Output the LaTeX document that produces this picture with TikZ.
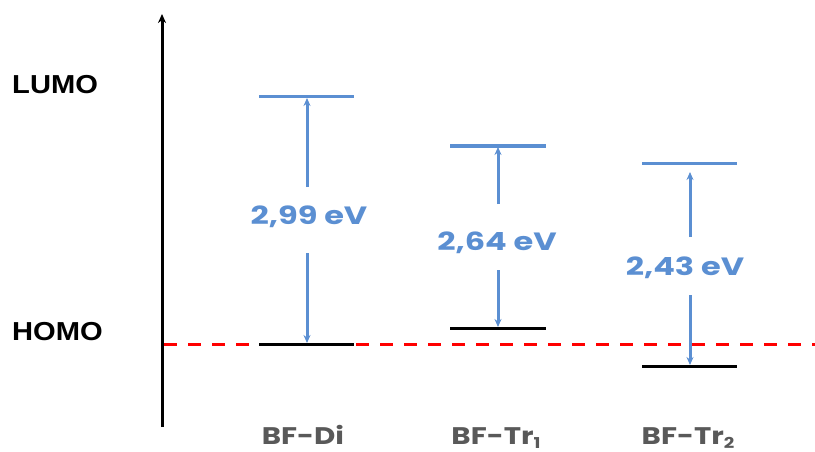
\documentclass[tikz,border=0pt]{standalone}
\usepackage{fontspec}
\setmainfont{Liberation Sans}
\newfontfamily\lblfont{Poppins}
\usetikzlibrary{arrows.meta}
\definecolor{lvlblue}{HTML}{5B8FD2}
\definecolor{lblgray}{HTML}{595959}
\newcommand{\lowsub}[1]{\raisebox{-0.18em}{\fontsize{15}{15}\selectfont #1}}
\tikzset{
  lumo/.style={draw=lvlblue, line width=3pt},
  homo/.style={draw=black, line width=3pt},
  gaparrow/.style={draw=lvlblue, line width=3pt, -{Stealth[length=8pt,width=7pt]}},
  gaplabel/.style={text=lvlblue, font=\lblfont\fontsize{25}{28}\selectfont\bfseries, inner sep=0pt, xscale=1.28},
  mollabel/.style={text=lblgray, font=\lblfont\fontsize{24}{26}\selectfont\bfseries, inner sep=0pt, xscale=1.22, anchor=base},
  sidelabel/.style={font=\fontsize{26}{28}\selectfont\bfseries, inner sep=0pt, anchor=west, xscale=1.12},
}
\begin{document}
\begin{tikzpicture}[x=1pt,y=-1pt]
\useasboundingbox (0,0) rectangle (815,452);
% axis
\coordinate (ax0) at (162,427);
\coordinate (ax1) at (162,14);
\draw[line width=3pt, -{Stealth[length=9pt,width=8pt]}] (ax0) -- (ax1);
% side labels
\node[sidelabel] (lumo) at (12,85) {LUMO};
\node[sidelabel] (homo) at (12,332) {HOMO};
% red dashed reference
\coordinate (r0) at (164,344);
\coordinate (r1) at (815,344);
\draw[red, line width=3pt, dash pattern=on 13pt off 11pt] (r0) -- (r1);
% BF-Di
\coordinate (dl0) at (259,97); \coordinate (dl1) at (354,97);
\coordinate (dh0) at (259,344); \coordinate (dh1) at (354,344);
\draw[lumo] (dl0) -- (dl1);
\draw[homo] (dh0) -- (dh1);
\node[gaplabel] (dlab) at (309,217) {2,99 eV};
\coordinate (da0) at (307,187); \coordinate (da1) at (307,98);
\coordinate (db0) at (307,253); \coordinate (db1) at (307,343);
\draw[gaparrow] (da0) -- (da1);
\draw[gaparrow] (db0) -- (db1);
\node[mollabel] (dname) at (303,444) {BF-Di};
% BF-Tr1
\coordinate (t1l0) at (450,146); \coordinate (t1l1) at (546,146);
\coordinate (t1h0) at (450,328); \coordinate (t1h1) at (546,328);
\draw[lumo] (t1l0) -- (t1l1);
\draw[homo] (t1h0) -- (t1h1);
\node[gaplabel] (t1lab) at (497,243) {2,64 eV};
\coordinate (t1a0) at (498,204); \coordinate (t1a1) at (498,147);
\coordinate (t1b0) at (498,270); \coordinate (t1b1) at (498,327);
\draw[gaparrow] (t1a0) -- (t1a1);
\draw[gaparrow] (t1b0) -- (t1b1);
\node[mollabel] (t1name) at (496,444) {BF-Tr\lowsub{1}};
% BF-Tr2
\coordinate (t2l0) at (642,163); \coordinate (t2l1) at (737,163);
\coordinate (t2h0) at (642,366); \coordinate (t2h1) at (737,366);
\draw[lumo] (t2l0) -- (t2l1);
\draw[homo] (t2h0) -- (t2h1);
\node[gaplabel] (t2lab) at (685,268) {2,43 eV};
\coordinate (t2a0) at (690,237); \coordinate (t2a1) at (690,172);
\coordinate (t2b0) at (690,295); \coordinate (t2b1) at (690,365);
\draw[gaparrow] (t2a0) -- (t2a1);
\draw[gaparrow] (t2b0) -- (t2b1);
\node[mollabel] (t2name) at (688,444) {BF-Tr\lowsub{2}};
\end{tikzpicture}
\end{document}
